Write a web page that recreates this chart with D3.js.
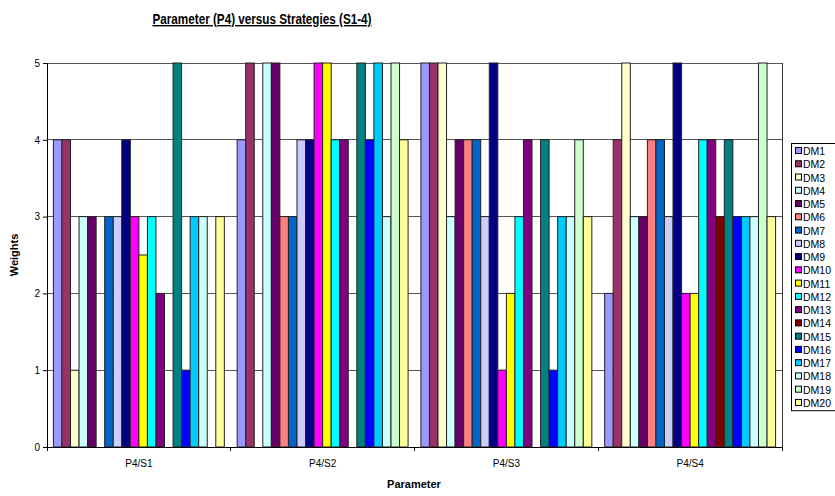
<!DOCTYPE html>
<html lang="en">
<head>
<meta charset="utf-8">
<title>Parameter (P4) versus Strategies (S1-4)</title>
<script src="https://d3js.org/d3.v7.min.js"></script>
<style>
  body { margin: 0; background: #fff; }
  svg { display: block; font-family: "Liberation Sans", Arial, sans-serif; }
</style>
</head>
<body>
<script>
// categories on the x axis
var groups = ["P4/S1", "P4/S2", "P4/S3", "P4/S4"];
// one series per decision maker
var series = d3.range(1, 21).map(function(i) { return "DM" + i; });
// weights per strategy, in DM1..DM20 order
var valuesS1 = [4, 4, 1, 3, 3, 0, 3, 3, 4, 3, 2.5, 3, 2, 0, 5, 1, 3, 3, 0, 3];
var valuesS2 = [4, 5, 0, 5, 5, 3, 3, 4, 4, 5, 5, 4, 4, 0, 5, 4, 5, 3, 5, 4];
var valuesS3 = [5, 5, 5, 3, 4, 4, 4, 3, 5, 1, 2, 3, 4, 0, 4, 1, 3, 3, 4, 3];
var valuesS4 = [2, 4, 5, 3, 3, 4, 4, 3, 5, 2, 2, 4, 4, 3, 4, 3, 3, 3, 5, 3];
var yTicks = [0, 1, 2, 3, 4, 5];

var colors = ["#9999FF", "#993366", "#FFFFCC", "#CCFFFF", "#660066", "#FF8080", "#0066CC",
              "#CCCCFF", "#000080", "#FF00FF", "#FFFF00", "#00FFFF", "#800080", "#800000",
              "#008080", "#0000FF", "#00CCFF", "#CCFFFF", "#CCFFCC", "#FFFF99"];

var allValues = [valuesS1, valuesS2, valuesS3, valuesS4];
var rows = [];
groups.forEach(function(g, gi) {
  series.forEach(function(s, si) {
    rows.push({group: g, dm: s, value: allValues[gi][si]});
  });
});

const width = 835, height = 496;
const plot = {left: 47, right: 782, top: 63, bottom: 447};

var svg = d3.select("body").append("svg")
  .attr("width", width)
  .attr("height", height);

var x0 = d3.scaleBand().domain(groups).range([plot.left, plot.right]);
var x1 = d3.scaleBand().domain(series)
  .range([0, x0.bandwidth()])
  .paddingOuter(0.75);
var y = d3.scaleLinear().domain([0, 5]).range([plot.bottom, plot.top]);
var color = d3.scaleOrdinal().domain(series).range(colors);

// gridlines
svg.append("g")
  .selectAll("line")
  .data(yTicks.slice(1))
  .join("line")
  .attr("x1", plot.left).attr("x2", plot.right)
  .attr("y1", function(d) { return y(d); })
  .attr("y2", function(d) { return y(d); })
  .attr("stroke", "#555")
  .attr("stroke-width", 1)
  .attr("shape-rendering", "crispEdges");

// plot border (right side)
svg.append("line")
  .attr("x1", plot.right).attr("x2", plot.right)
  .attr("y1", plot.top).attr("y2", plot.bottom)
  .attr("stroke", "#333")
  .attr("shape-rendering", "crispEdges");

// bars
svg.append("g")
  .selectAll("rect")
  .data(rows.filter(function(d) { return d.value > 0; }))
  .join("rect")
  .attr("x", function(d) { return x0(d.group) + x1(d.dm); })
  .attr("y", function(d) { return y(d.value); })
  .attr("width", x1.bandwidth())
  .attr("height", function(d) { return y(0) - y(d.value); })
  .attr("fill", function(d) { return color(d.dm); })
  .attr("stroke", "#222")
  .attr("stroke-width", 1);

// y axis
var yAxis = svg.append("g")
  .attr("transform", "translate(" + plot.left + ",0)")
  .call(d3.axisLeft(y).tickValues(yTicks).tickFormat(d3.format("d")).tickSize(4).tickSizeOuter(0));
yAxis.select(".domain").attr("stroke", "#000");
yAxis.selectAll("text").attr("font-size", 10).attr("fill", "#000")
  .attr("font-family", "'Liberation Sans', Arial, sans-serif");

// x axis with ticks at group boundaries
var xAxis = svg.append("g")
  .attr("transform", "translate(0," + plot.bottom + ")");
xAxis.append("line")
  .attr("x1", plot.left).attr("x2", plot.right)
  .attr("stroke", "#000")
  .attr("shape-rendering", "crispEdges");
var bounds = groups.map(function(g) { return x0(g); }).concat([plot.right]);
xAxis.selectAll(".tick")
  .data(bounds)
  .join("line")
  .attr("class", "tick")
  .attr("x1", function(d) { return d; }).attr("x2", function(d) { return d; })
  .attr("y1", 0).attr("y2", 4)
  .attr("stroke", "#000")
  .attr("shape-rendering", "crispEdges");
xAxis.selectAll(".lbl")
  .data(groups)
  .join("text")
  .attr("class", "lbl")
  .attr("x", function(d) { return x0(d) + x0.bandwidth() / 2; })
  .attr("y", 20)
  .attr("text-anchor", "middle")
  .attr("font-size", 10)
  .text(function(d) { return d; });

// titles
svg.append("text")
  .attr("x", 262).attr("y", 24)
  .attr("text-anchor", "middle")
  .attr("font-weight", "bold")
  .attr("font-size", 14)
  .attr("textLength", 219)
  .attr("lengthAdjust", "spacingAndGlyphs")
  .attr("text-decoration", "underline")
  .text("Parameter (P4) versus Strategies (S1-4)");

svg.append("text")
  .attr("x", 414).attr("y", 488)
  .attr("text-anchor", "middle")
  .attr("font-weight", "bold")
  .attr("font-size", 11)
  .text("Parameter");

svg.append("text")
  .attr("transform", "translate(18," + ((plot.top + plot.bottom) / 2) + ") rotate(-90)")
  .attr("text-anchor", "middle")
  .attr("font-weight", "bold")
  .attr("font-size", 11)
  .text("Weights");

// legend
const legTop = 143, legStep = 13.26;
var legend = svg.append("g");
legend.append("rect")
  .attr("x", 791.5).attr("y", legTop + 0.5)
  .attr("width", 60).attr("height", legStep * series.length + 2)
  .attr("fill", "#fff")
  .attr("stroke", "#000");
var items = legend.selectAll(".item")
  .data(series)
  .join("g")
  .attr("class", "item")
  .attr("transform", function(d, i) { return "translate(795," + (legTop + 8 + i * legStep) + ")"; });
items.append("rect")
  .attr("x", 0.5).attr("y", -3.5)
  .attr("width", 6).attr("height", 6)
  .attr("fill", function(d) { return color(d); })
  .attr("stroke", "#000");
items.append("text")
  .attr("x", 8).attr("y", 4)
  .attr("font-size", 10.5)
  .text(function(d) { return d; });
</script>
</body>
</html>
